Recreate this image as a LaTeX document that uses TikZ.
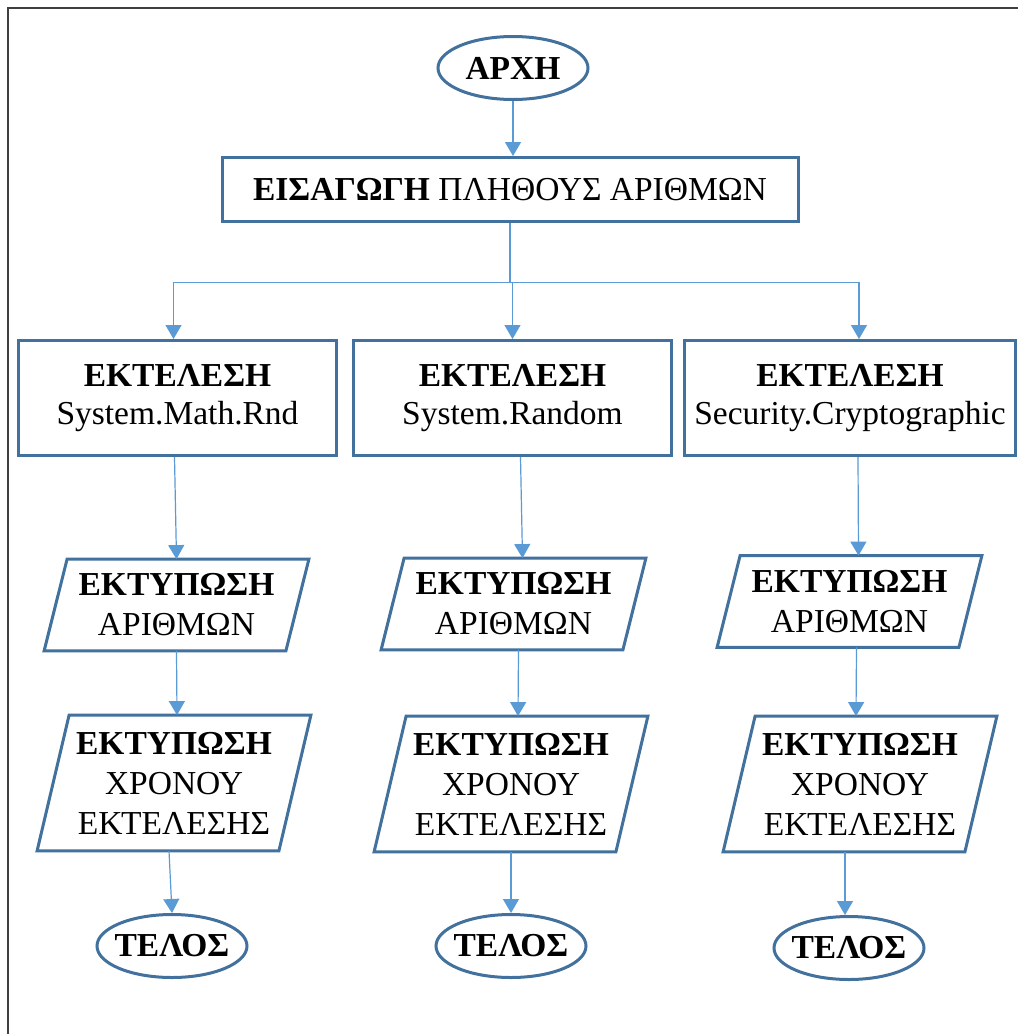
\documentclass[tikz,border=0pt]{standalone}
\usepackage{fontspec}
\setmainfont{Liberation Serif}
\usetikzlibrary{shapes.geometric,arrows.meta,calc}
\definecolor{bordercol}{HTML}{41719C}
\definecolor{linkcol}{HTML}{5B9BD5}
\definecolor{framecol}{HTML}{3F3F3F}
\newcommand\drawpara[2]{\draw[pline] ($(#1.north west)+(#2,0)$) -- (#1.north east) -- ($(#1.south east)-(#2,0)$) -- (#1.south west) -- cycle;}
\begin{document}
\begin{tikzpicture}[x=0.5pt,y=-0.5pt,
  txt/.style={font=\fontsize{16.75}{20}\selectfont, align=center, inner sep=0pt},
  boxnode/.style={txt, draw=bordercol, line width=1.5pt, rectangle},
  ovalnode/.style={txt, draw=bordercol, line width=1.5pt, ellipse, minimum width=75pt, minimum height=31.5pt},
  paranode/.style={txt, rectangle},
  pline/.style={draw=bordercol, line width=1.5pt, line join=miter},
  link/.style={draw=linkcol, line width=0.6pt, -{Triangle[width=8pt,length=7pt]}},
  linkplain/.style={draw=linkcol, line width=0.6pt}]

\useasboundingbox (0,0) rectangle (1018,1034);
\fill[white] (0,0) rectangle (1018,1034);
\draw[framecol, line width=1pt] (7.5,1034) -- (7.5,7.5) -- (1018,7.5);

% nodes
\node[ovalnode] (start) at (513,68) {\makebox[40pt]{\textbf{ΑΡΧΗ}}};
\node[boxnode, minimum width=288pt, minimum height=32pt] (ins) at (510,189.5) {\textbf{ΕΙΣΑΓΩΓΗ} ΠΛΗΘΟΥΣ ΑΡΙΘΜΩΝ};

\node[boxnode, minimum width=159pt, minimum height=57.5pt, font=\fontsize{16.75}{19}\selectfont] (ex1) at (177.5,398) {\textbf{ΕΚΤΕΛΕΣΗ}\\System.Math.Rnd};
\node[boxnode, minimum width=159pt, minimum height=57.5pt, font=\fontsize{16.75}{19}\selectfont] (ex2) at (512.5,398) {\textbf{ΕΚΤΕΛΕΣΗ}\\System.Random};
\node[boxnode, minimum width=165.5pt, minimum height=57.5pt, font=\fontsize{16.75}{19}\selectfont] (ex3) at (850,398) {\textbf{ΕΚΤΕΛΕΣΗ}\\Security.Cryptographic};

\node[paranode, minimum width=132pt, minimum height=45.5pt] (p11) at (176.5,605) {\textbf{ΕΚΤΥΠΩΣΗ}\\ΑΡΙΘΜΩΝ};
\node[paranode, minimum width=132pt, minimum height=45.5pt] (p12) at (513.5,604) {\textbf{ΕΚΤΥΠΩΣΗ}\\ΑΡΙΘΜΩΝ};
\node[paranode, minimum width=132pt, minimum height=45.5pt] (p13) at (849.5,601.5) {\textbf{ΕΚΤΥΠΩΣΗ}\\ΑΡΙΘΜΩΝ};
\drawpara{p11}{23}
\drawpara{p12}{23}
\drawpara{p13}{23}

\node[paranode, minimum width=136.5pt, minimum height=67.5pt] (p21) at (174,783) {\textbf{ΕΚΤΥΠΩΣΗ}\\ΧΡΟΝΟΥ\\ΕΚΤΕΛΕΣΗΣ};
\node[paranode, minimum width=136.5pt, minimum height=67.5pt] (p22) at (511,784) {\textbf{ΕΚΤΥΠΩΣΗ}\\ΧΡΟΝΟΥ\\ΕΚΤΕΛΕΣΗΣ};
\node[paranode, minimum width=136.5pt, minimum height=67.5pt] (p23) at (860,784) {\textbf{ΕΚΤΥΠΩΣΗ}\\ΧΡΟΝΟΥ\\ΕΚΤΕΛΕΣΗΣ};
\drawpara{p21}{32}
\drawpara{p22}{32}
\drawpara{p23}{32}

\node[ovalnode] (e1) at (172,946) {\makebox[40pt]{\textbf{ΤΕΛΟΣ}}};
\node[ovalnode] (e2) at (511,946) {\makebox[40pt]{\textbf{ΤΕΛΟΣ}}};
\node[ovalnode] (e3) at (849,948) {\makebox[40pt]{\textbf{ΤΕΛΟΣ}}};

% connectors
\draw[link] (start.south) -- (start.south |- ins.north);
\path (ins.south) ++(0,59.5) coordinate (split);
\draw[linkplain] (ins.south) -- (split);
\draw[link] (split) -| ([xshift=-2pt]ex1.north);
\draw[link] (split) -| (ex2.north);
\draw[link] (split) -| ([xshift=4.5pt]ex3.north);

\draw[link] ([xshift=-1.5pt]ex1.south) -- (p11.north);
\draw[link] (p11.south) -- ([xshift=1.5pt]p21.north);
\draw[link] ([xshift=-2.5pt]p21.south) -- (e1.north);

\draw[link] ([xshift=4pt]ex2.south) -- ([xshift=4.5pt]p12.north);
\draw[link] ([xshift=2.5pt]p12.south) -- ([xshift=3.5pt]p22.north);
\draw[link] (p22.south) -- (e2.north);

\draw[link] ([xshift=4pt]ex3.south) -- ([xshift=4.5pt]p13.north);
\draw[link] ([xshift=3.5pt]p13.south) -- ([xshift=-2pt]p23.north);
\draw[link] ([xshift=-7.5pt]p23.south) -- ([xshift=-2pt]e3.north);
\end{tikzpicture}
\end{document}
